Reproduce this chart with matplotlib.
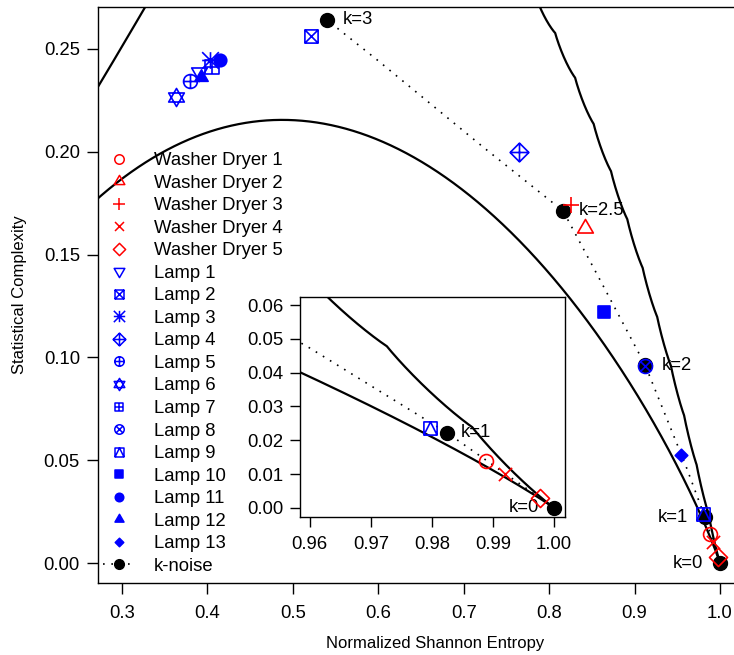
import numpy as np
import matplotlib
matplotlib.use("Agg")
import matplotlib.pyplot as plt
from matplotlib.path import Path
from matplotlib.lines import Line2D

plt.rcParams['font.family'] = ['Liberation Sans', 'DejaVu Sans']

# embedding dimension 4 -> 24 ordinal patterns
N_PATTERNS = 24

wd_names = ['Washer Dryer 1', 'Washer Dryer 2', 'Washer Dryer 3',
            'Washer Dryer 4', 'Washer Dryer 5']
wd_H = [0.9889, 0.8422, 0.8258, 0.9920, 0.9977]
wd_C = [0.0139, 0.1629, 0.1741, 0.0101, 0.0030]

lamp_names = ['Lamp %d' % i for i in range(1, 14)]
lamp_H = [0.3900, 0.5213, 0.4030, 0.7649, 0.3796, 0.3632, 0.4054,
          0.9124, 0.9797, 0.8644, 0.4148, 0.3920, 0.9546]
lamp_C = [0.2390, 0.2563, 0.2446, 0.1999, 0.2344, 0.2267, 0.2412,
          0.0958, 0.0237, 0.1221, 0.2446, 0.2362, 0.0525]

# k-noise path (dotted) and the labelled k values on it
kn_H = [1.0000, 0.9825, 0.9600, 0.9124, 0.8597, 0.8164, 0.7227, 0.5986, 0.5400]
kn_C = [0.0000, 0.0222, 0.0473, 0.0963, 0.1376, 0.1712, 0.2023, 0.2447, 0.2641]
k_labels = ['k=0', 'k=1', 'k=2', 'k=2.5', 'k=3']
k_idx = [0, 1, 3, 5, 8]


def shannon(p):
    p = p[p > 0]
    return -np.sum(p * np.log(p))


def hc_point(p, n):
    pe = np.ones(n) / n
    q0 = -2.0 / (((n + 1.0) / n) * np.log(n + 1) - 2 * np.log(2 * n) + np.log(n))
    h = shannon(p) / np.log(n)
    js = shannon((p + pe) / 2) - shannon(p) / 2 - shannon(pe) / 2
    return h, q0 * js * h


def min_curve(n, m=3000):
    hs, cs = [], []
    for pm in np.linspace(1.0 / n, 1.0, m):
        p = np.full(n, (1 - pm) / (n - 1))
        p[0] = pm
        h, c = hc_point(p, n)
        hs.append(h)
        cs.append(c)
    return np.array(hs), np.array(cs)


def max_curve(n, m=200):
    hs, cs = [], []
    for z in range(0, n - 1):
        for pv in np.linspace(0, 1.0 / (n - z), m):
            p = np.zeros(n)
            p[0] = pv
            p[1:n - z] = (1 - pv) / (n - z - 1)
            h, c = hc_point(p, n)
            hs.append(h)
            cs.append(c)
    hs, cs = np.array(hs), np.array(cs)
    o = np.argsort(hs)
    return hs[o], cs[o]


def mk(*parts):
    paths = []
    for pts, closed in parts:
        if pts == 'circle':
            paths.append(Path.unit_circle())
            continue
        codes = [Path.MOVETO] + [Path.LINETO] * (len(pts) - 1)
        v = list(pts)
        if closed:
            v.append(pts[0])
            codes.append(Path.CLOSEPOLY)
        paths.append(Path(v, codes))
    return Path.make_compound_path(*paths)


SQ = [(-1, -1), (1, -1), (1, 1), (-1, 1)]
DM = [(0, 1), (1, 0), (0, -1), (-1, 0)]
TU = [(0, 1), (0.866, -0.5), (-0.866, -0.5)]
TD = [(0, -1), (0.866, 0.5), (-0.866, 0.5)]
HL = ([(-1, 0), (1, 0)], False)
VL = ([(0, -1), (0, 1)], False)
D1 = ([(-0.707, -0.707), (0.707, 0.707)], False)
D2 = ([(-0.707, 0.707), (0.707, -0.707)], False)
S1 = ([(-1, -1), (1, 1)], False)
S2 = ([(-1, 1), (1, -1)], False)

m_circle = mk(('circle', True))
m_tri_up = mk((TU, True))
m_tri_dn = mk((TD, True))
m_plus = mk(HL, VL)
m_x = mk(S1, S2)
m_diam = mk((DM, True))
m_sq_x = mk((SQ, True), S1, S2)
m_star = mk(HL, VL, S1, S2)
m_diam_plus = mk((DM, True), HL, VL)
m_circ_plus = mk(('circle', True), HL, VL)
m_hexagram = mk((TU, True), (TD, True))
m_sq_plus = mk((SQ, True), HL, VL)
m_circ_x = mk(('circle', True), D1, D2)
m_sq_tri = mk((SQ, True), ([(-1, -1), (0, 1), (1, -1)], False))
m_sq = mk((SQ, True))

RED = '#FF0000'
BLUE = '#0000FF'

# (marker, size, filled)
wd_style = [(m_circle, 10, False), (m_tri_up, 13, False), (m_plus, 12, False),
            (m_x, 9.5, False), (m_diam, 13, False)]
lamp_style = [(m_tri_dn, 13, False), (m_sq_x, 9.5, False), (m_star, 12, False),
              (m_diam_plus, 13.5, False), (m_circ_plus, 10, False),
              (m_hexagram, 13, False), (m_sq_plus, 9.5, False),
              (m_circ_x, 10, False), (m_sq_tri, 9.5, False),
              (m_sq, 8.5, True), (m_circle, 9, True), (m_tri_up, 11, True),
              (m_diam, 9, True)]

hmin, cmin = min_curve(N_PATTERNS)
hmax, cmax = max_curve(N_PATTERNS)

DOT = (0, (1, 4))

fig = plt.figure(figsize=(7.34, 6.55), dpi=100)
# right edge of the plot box lies outside the picture, as in the original
ax = fig.add_axes([98 / 734, 72 / 655, 674 / 734, 576 / 655])
ins = fig.add_axes([300 / 734, 138 / 655, 265 / 734, 220 / 655])


def draw(a, scale=1.0):
    a.plot(hmin, cmin, color='black', lw=1.6, zorder=2)
    a.plot(hmax, cmax, color='black', lw=1.6, zorder=2)
    a.plot(kn_H, kn_C, color='black', ls=DOT, lw=1.2, zorder=2)
    a.plot([kn_H[i] for i in k_idx], [kn_C[i] for i in k_idx], 'o',
           color='black', ms=10 * scale, zorder=3)
    for h, c, (m, s, f) in zip(wd_H, wd_C, wd_style):
        a.plot(h, c, marker=m, ms=s * scale, ls='none',
               mfc=RED if f else 'none', mec=RED, mew=1.2, zorder=4)
    for h, c, (m, s, f) in zip(lamp_H, lamp_C, lamp_style):
        a.plot(h, c, marker=m, ms=s * scale, ls='none',
               mfc=BLUE if f else 'none', mec=BLUE, mew=1.2, zorder=4)


draw(ax)
draw(ins)

FS = 13.3
ax.set_xlim(0.2719, 1.0609)
ax.set_ylim(-0.0097, 0.2704)
ax.set_xticks([0.3, 0.4, 0.5, 0.6, 0.7, 0.8, 0.9, 1.0])
ax.set_xticklabels(['0.3', '0.4', '0.5', '0.6', '0.7', '0.8', '0.9', '1.0'])
ax.set_yticks([0.0, 0.05, 0.10, 0.15, 0.20, 0.25])
ax.set_yticklabels(['0.00', '0.05', '0.10', '0.15', '0.20', '0.25'])
ax.tick_params(labelsize=FS, length=8, width=1, pad=5)
ax.tick_params(axis='x', pad=8)
ax.set_xlabel('Normalized Shannon Entropy', fontsize=12, labelpad=10)
ax.set_ylabel('Statistical Complexity', fontsize=12, labelpad=12)

ins.set_xlim(0.9584, 1.0018)
ins.set_ylim(-0.0027, 0.0624)
ins.set_xticks([0.96, 0.97, 0.98, 0.99, 1.00])
ins.set_xticklabels(['0.96', '0.97', '0.98', '0.99', '1.00'])
ins.set_yticks([0.0, 0.01, 0.02, 0.03, 0.04, 0.05, 0.06])
ins.set_yticklabels(['0.00', '0.01', '0.02', '0.03', '0.04', '0.05', '0.06'])
ins.tick_params(labelsize=FS, length=7, width=1, pad=5)
ins.tick_params(axis='x', pad=7)
ins.set_facecolor('white')

for a in (ax, ins):
    for sp in a.spines.values():
        sp.set_linewidth(1.0)

# k labels on main plot
main_off = {'k=0': (-12, 'right'), 'k=1': (-12, 'right'),
            'k=2': (12, 'left'), 'k=2.5': (11, 'left'), 'k=3': (11.5, 'left')}
for lab, i in zip(k_labels, k_idx):
    dx, ha = main_off[lab]
    ax.annotate(lab, (kn_H[i], kn_C[i]), xytext=(dx, 0), textcoords='offset points',
                ha=ha, va='center', fontsize=FS, zorder=5)
ins.annotate('k=1', (kn_H[1], kn_C[1]), xytext=(9.5, 0), textcoords='offset points',
             ha='left', va='center', fontsize=FS)
ins.annotate('k=0', (kn_H[0], kn_C[0]), xytext=(-11, 0), textcoords='offset points',
             ha='right', va='center', fontsize=FS)

# legend
handles = []
for (m, s, f) in wd_style:
    handles.append(Line2D([], [], ls='none', marker=m, ms=s * 0.68,
                          mfc=RED if f else 'none', mec=RED, mew=1.1))
for (m, s, f) in lamp_style:
    handles.append(Line2D([], [], ls='none', marker=m, ms=s * 0.68,
                          mfc=BLUE if f else 'none', mec=BLUE, mew=1.1))
handles.append(Line2D([], [], color='black', ls=DOT, lw=1.2,
                      marker='o', ms=7))
ax.legend(handles, wd_names + lamp_names + ['k-noise'], loc='upper left',
          bbox_to_anchor=(-0.003, 0.761), frameon=False, fontsize=FS,
          labelspacing=0.30, handlelength=1.7, handletextpad=1.04,
          borderaxespad=0.0, borderpad=0.4)

fig.savefig('out.png', dpi=100)
